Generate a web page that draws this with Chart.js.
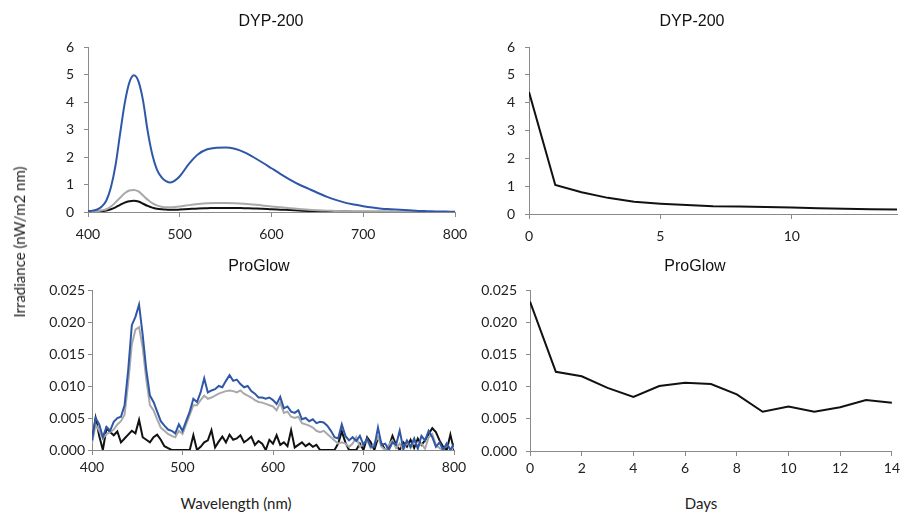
<!DOCTYPE html>
<html><head><meta charset="utf-8">
<script src="https://cdn.jsdelivr.net/npm/chart.js@4.4.1/dist/chart.umd.min.js"></script>
<style>
html,body{margin:0;padding:0;background:#fff;width:904px;height:517px;overflow:hidden;position:relative;}
canvas{position:absolute;}
.lbl{position:absolute;font-family:Lato,'Liberation Sans',sans-serif;font-weight:normal;color:#222;white-space:nowrap;transform:translate(-50%,-50%);}
.ttl{position:absolute;font-family:'Liberation Sans',Arial,sans-serif;font-size:16px;color:#111;white-space:nowrap;transform:translate(-50%,-50%);}
</style></head><body>
<canvas id="tl" width="490" height="245" style="left:0;top:0"></canvas>
<canvas id="tr" width="417" height="245" style="left:487px;top:0"></canvas>
<canvas id="bl" width="490" height="235" style="left:0;top:245px"></canvas>
<canvas id="br" width="439" height="235" style="left:465px;top:245px"></canvas>
<div class="ttl" style="left:271px;top:21px;">DYP-200</div>
<div class="ttl" style="left:692px;top:21px;">DYP-200</div>
<div class="ttl" style="left:259px;top:266px;">ProGlow</div>
<div class="ttl" style="left:695px;top:266px;">ProGlow</div>
<div class="lbl" style="left:19px;top:242px;font-size:15px;transform:translate(-50%,-50%) rotate(-90deg);">Irradiance (nW/m2 nm)</div>
<div class="lbl" style="left:236px;top:503px;font-size:15px;">Wavelength (nm)</div>
<div class="lbl" style="left:701px;top:503px;font-size:15px;">Days</div>
<script>
// ---- DYP-200 spectrum ----
const wlDYP = [400,405,410,415,420,425,430,435,440,445,450,455,460,465,470,475,480,485,490,495,500,
  510,520,530,540,550,560,570,580,590,600,610,620,630,640,650,660,670,680,690,700,710,720,730,740,750,760,770,780,790,800];
const dypBlue = [0.03,0.05,0.09,0.2,0.42,0.9,1.7,2.85,3.95,4.7,4.97,4.75,4.05,2.95,2.1,1.55,1.27,1.12,1.07,1.15,1.3,
  1.75,2.1,2.28,2.34,2.35,2.3,2.18,2.0,1.8,1.59,1.38,1.18,1.0,0.85,0.7,0.56,0.44,0.34,0.27,0.21,0.16,0.12,0.1,0.08,0.06,0.04,0.03,0.02,0.015,0.01];
const dypGray = [0.01,0.02,0.03,0.06,0.1,0.2,0.35,0.52,0.68,0.78,0.8,0.75,0.6,0.45,0.32,0.24,0.19,0.17,0.17,0.18,0.2,
  0.25,0.29,0.32,0.33,0.33,0.32,0.3,0.27,0.24,0.2,0.17,0.14,0.11,0.08,0.06,0.05,0.035,0.025,0.02,0.015,0.012,0.01,0.008,0.006,0.005,0.004,0.003,0.002,0.001,0.0];
const dypBlack = [0.01,0.015,0.02,0.03,0.05,0.1,0.17,0.26,0.34,0.39,0.41,0.38,0.3,0.22,0.16,0.12,0.1,0.09,0.08,0.08,0.09,
  0.11,0.13,0.14,0.15,0.15,0.15,0.14,0.13,0.12,0.1,0.085,0.07,0.055,0.04,0.03,0.025,0.02,0.015,0.012,0.01,0.008,0.006,0.005,0.004,0.003,0.002,0.002,0.001,0.001,0];

// ---- ProGlow spectrum ----
const wlPG = [400,404,408,412,416,420,424,428,432,436,
  440,444,448,452,456,460,464,468,472,476,
  480,484,488,492,496,500,504,508,512,516,
  520,524,528,532,536,540,544,548,552,556,
  560,564,568,572,576,580,584,588,592,596,
  600,604,608,612,616,620,624,628,632,636,
  640,644,648,652,656,660,664,668,672,676,
  680,684,688,692,696,700,704,708,712,716,
  720,724,728,732,736,740,744,748,752,756,
  760,764,768,772,776,780,784,788,792,796,
  800];
const pgBlue = [0.0015,0.0050,0.0040,0.0020,0.0036,0.0030,0.0044,0.0050,0.0052,0.0070,
  0.0125,0.0195,0.0208,0.0227,0.0180,0.0125,0.0085,0.0075,0.0060,0.0045,
  0.0038,0.0032,0.0030,0.0026,0.0040,0.0030,0.0045,0.0060,0.0080,0.0075,
  0.0090,0.0112,0.0090,0.0093,0.0095,0.0100,0.0098,0.0108,0.0117,0.0108,
  0.0110,0.0103,0.0098,0.0100,0.0092,0.0088,0.0082,0.0082,0.0080,0.0082,
  0.0078,0.0072,0.0083,0.0065,0.0068,0.0060,0.0058,0.0062,0.0048,0.0050,
  0.0045,0.0048,0.0042,0.0044,0.0043,0.0038,0.0030,0.0020,0.0018,0.0040,
  0.0022,0.0015,0.0020,0.0014,0.0022,0.0008,0.0018,0.0005,0.0005,0.0035,
  0.0008,0.0010,0.0000,0.0012,0.0008,0.0030,0.0002,0.0015,0.0005,0.0018,
  0.0002,0.0022,0.0015,0.0030,0.0020,0.0005,0.0012,0.0000,0.0010,0.0000,
  0.0010];
const pgGray = [0.0010,0.0040,0.0030,0.0018,0.0025,0.0028,0.0032,0.0040,0.0045,0.0055,
  0.0105,0.0165,0.0188,0.0192,0.0160,0.0110,0.0070,0.0062,0.0048,0.0035,
  0.0030,0.0025,0.0022,0.0020,0.0030,0.0025,0.0040,0.0055,0.0070,0.0070,
  0.0078,0.0085,0.0080,0.0082,0.0085,0.0088,0.0090,0.0092,0.0093,0.0092,
  0.0090,0.0093,0.0088,0.0085,0.0082,0.0078,0.0075,0.0074,0.0072,0.0070,
  0.0068,0.0062,0.0074,0.0058,0.0060,0.0052,0.0050,0.0052,0.0042,0.0040,
  0.0038,0.0035,0.0030,0.0028,0.0030,0.0025,0.0020,0.0015,0.0010,0.0012,
  0.0010,0.0005,0.0010,0.0020,0.0005,0.0010,0.0015,0.0003,0.0010,0.0020,
  0.0005,0.0000,0.0008,0.0015,0.0003,0.0010,0.0000,0.0012,0.0003,0.0015,
  0.0005,0.0010,0.0002,0.0020,0.0025,0.0008,0.0003,0.0000,0.0010,0.0000,
  0.0005];
const pgBlack = [0.0015,0.0050,0.0022,0.0000,0.0034,0.0028,0.0023,0.0029,0.0012,0.0018,
  0.0024,0.0030,0.0026,0.0047,0.0020,0.0016,0.0012,0.0020,0.0024,0.0016,
  0.0006,0.0003,0.0000,0.0000,0.0000,0.0000,0.0000,0.0000,0.0023,0.0000,
  0.0005,0.0012,0.0015,0.0031,0.0004,0.0013,0.0021,0.0012,0.0024,0.0016,
  0.0018,0.0023,0.0012,0.0016,0.0021,0.0008,0.0014,0.0010,0.0000,0.0016,
  0.0010,0.0023,0.0008,0.0012,0.0006,0.0031,0.0004,0.0008,0.0012,0.0006,
  0.0010,0.0005,0.0008,0.0000,0.0000,0.0000,0.0000,0.0000,0.0010,0.0029,
  0.0012,0.0000,0.0000,0.0000,0.0010,0.0000,0.0020,0.0012,0.0000,0.0019,
  0.0010,0.0000,0.0005,0.0022,0.0008,0.0000,0.0012,0.0005,0.0016,0.0003,
  0.0018,0.0008,0.0015,0.0025,0.0034,0.0028,0.0015,0.0005,0.0000,0.0024,
  0.0000];

// ---- Decay over days ----
const days = [0,1,2,3,4,5,6,7,8,9,10,11,12,13,14];
const dypDays = [4.38,1.04,0.78,0.58,0.44,0.37,0.32,0.28,0.27,0.25,0.23,0.21,0.19,0.17,0.16];
const pgDays = [0.0232,0.0123,0.0116,0.0098,0.0084,0.0101,0.0106,0.0104,0.0088,0.0061,0.0069,0.0061,0.0068,0.0079,0.0075];

const BLUE = '#2f57a8', GRAY = '#a9a9a9', BLACK = '#111111', AXIS = '#8a8a8a';
const tickFont = {family: "Lato, 'Liberation Sans', sans-serif", size: 14};

function pts(xs, ys) { return xs.map((x, i) => ({x: x, y: ys[i]})); }
function ds(xs, ys, color, tension) {
  return {data: pts(xs, ys), borderColor: color, borderWidth: 2, pointRadius: 0, tension: tension || 0,
    cubicInterpolationMode: tension ? 'monotone' : 'default', fill: false};
}

function make(id, o) {
  new Chart(document.getElementById(id), {
    type: 'line',
    data: {datasets: o.datasets},
    options: {
      responsive: false, animation: false,
      layout: {padding: {left: 0, right: o.padRight, top: o.padTop, bottom: 0}},
      plugins: {legend: {display: false}, tooltip: {enabled: false}, title: {display: false}},
      scales: {
        x: {type: 'linear', min: o.xmin, max: o.xmax,
          ticks: {stepSize: o.xstep, font: tickFont, color: '#222', padding: o.xPad, maxRotation: 0, autoSkip: false},
          grid: {drawOnChartArea: false, drawTicks: true, tickLength: 5, color: AXIS},
          border: {color: AXIS, width: 1},
          afterBuildTicks: o.xFilter ? (s => { s.ticks = s.ticks.filter(t => t.value % o.xFilter === 0); }) : undefined,
          afterFit: s => { s.height = o.xH; }},
        y: {type: 'linear', min: 0, max: o.ymax,
          ticks: {stepSize: o.ystep, font: tickFont, color: '#222', padding: o.yPad,
            callback: v => o.ydec ? Number(v).toFixed(o.ydec) : String(Math.round(v))},
          grid: {drawOnChartArea: false, drawTicks: true, tickLength: 4, color: AXIS},
          border: {color: AXIS, width: 1},
          afterFit: s => { s.width = o.yW; }}
      }
    }
  });
}

make('tl', {padTop: 47, padRight: 35, yW: 88, xH: 33,
  xmin: 400, xmax: 800, xstep: 100, xPad: 9, ymax: 6, ystep: 1, yPad: 10, ydec: 0,
  datasets: [ds(wlDYP, dypBlue, BLUE, 0.4), ds(wlDYP, dypGray, GRAY, 0.4), ds(wlDYP, dypBlack, BLACK, 0.4)]});

make('tr', {padTop: 47, padRight: 7, yW: 42, xH: 31,
  xmin: 0, xmax: 14, xstep: 1, xFilter: 5, xPad: 9, ymax: 6, ystep: 1, yPad: 10, ydec: 0,
  datasets: [ds(days, dypDays, BLACK, 0)]});

make('bl', {padTop: 45, padRight: 36, yW: 92, xH: 30,
  xmin: 400, xmax: 800, xstep: 100, xPad: 4, ymax: 0.025, ystep: 0.005, yPad: 3, ydec: 3,
  datasets: [ds(wlPG, pgBlue, BLUE, 0), ds(wlPG, pgGray, GRAY, 0), ds(wlPG, pgBlack, BLACK, 0)]});

make('br', {padTop: 45, padRight: 8, yW: 65, xH: 29,
  xmin: 0, xmax: 14, xstep: 2, xPad: 4, ymax: 0.025, ystep: 0.005, yPad: 9, ydec: 3,
  datasets: [ds(days, pgDays, BLACK, 0)]});
</script>
</body></html>
